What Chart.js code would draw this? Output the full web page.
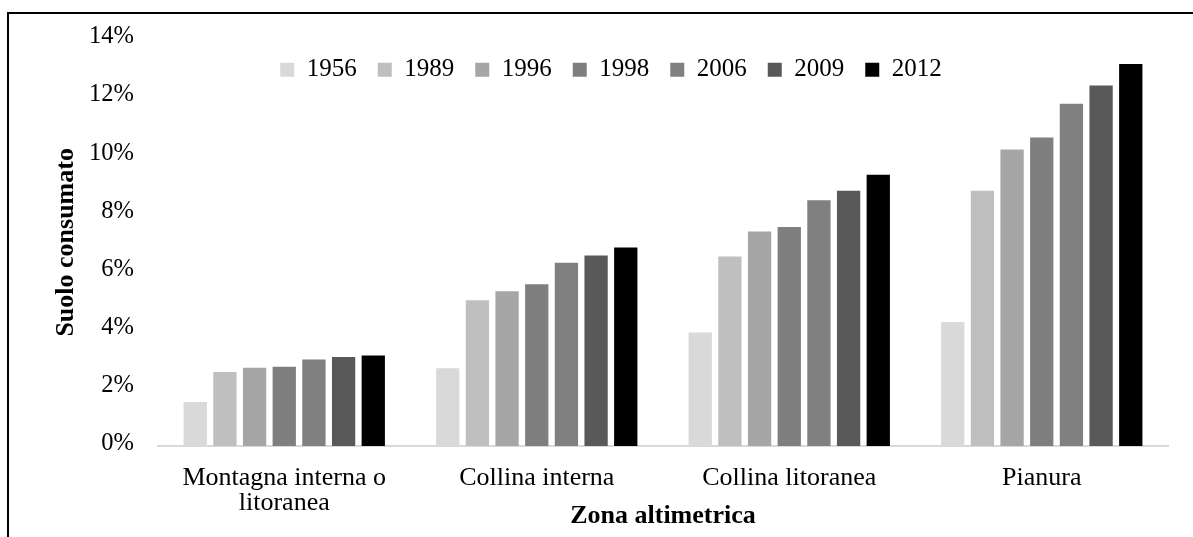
<!DOCTYPE html>
<html>
<head>
<meta charset="utf-8">
<script src="https://cdn.jsdelivr.net/npm/chart.js@4/dist/chart.umd.min.js"></script>
<style>
html,body{margin:0;padding:0;background:#fff;}
#wrap{position:relative;width:1193px;height:537px;overflow:hidden;}
#frame{position:absolute;left:7px;top:12px;right:-5px;bottom:-5px;border-top:2px solid #000;border-left:2px solid #000;pointer-events:none;}
canvas{position:absolute;left:0;top:0;}
</style>
</head>
<body>
<div id="wrap"><canvas id="c" width="1193" height="537"></canvas><div id="frame"></div></div>
<script>
// Data
const categories = [["Montagna interna o", "litoranea"], "Collina interna", "Collina litoranea", "Pianura"];
const years = ["1956", "1989", "1996", "1998", "2006", "2009", "2012"];
const v1956 = [1.51, 2.67, 3.90, 4.26];
const v1989 = [2.54, 5.01, 6.51, 8.77];
const v1996 = [2.69, 5.32, 7.37, 10.19];
const v1998 = [2.72, 5.56, 7.53, 10.60];
const v2006 = [2.97, 6.30, 8.45, 11.76];
const v2009 = [3.06, 6.55, 8.77, 12.39];
const v2012 = [3.11, 6.82, 9.32, 13.13];
const yMin = 0, yMax = 14, yStep = 2;
const xTitle = "Zona altimetrica";
const yTitle = "Suolo consumato";

// Styles
const seriesValues = [v1956, v1989, v1996, v1998, v2006, v2009, v2012];
const seriesColors = ["#d9d9d9", "#bfbfbf", "#a6a6a6", "#7f7f7f", "#808080", "#595959", "#000000"];
const FONT = "'Liberation Serif', 'Times New Roman', serif";

// Legend drawn horizontally inside the plot area, slightly left of centre
const legendInPlot = {
  id: 'legendInPlot',
  beforeLayout(chart) {
    if (chart.legend) chart.legend.isHorizontal = () => true;
  },
  afterLayout(chart) {
    const lg = chart.legend;
    if (!lg) return;
    const ca = chart.chartArea;
    lg.left = ca.left - 52;
    lg.right = ca.right - 52;
    lg.top = ca.top - 2.5;
    lg.bottom = lg.top + lg.height;
  }
};

new Chart(document.getElementById('c'), {
  type: 'bar',
  data: {
    labels: categories,
    datasets: years.map((y, i) => ({
      label: y,
      data: seriesValues[i],
      backgroundColor: seriesColors[i],
      borderWidth: 0,
      categoryPercentage: 0.8226,
      barPercentage: 0.785
    }))
  },
  options: {
    responsive: false,
    animation: false,
    devicePixelRatio: 1,
    layout: { padding: { left: 0, right: 25, top: 36, bottom: 0 } },
    plugins: {
      tooltip: { enabled: false },
      legend: {
        position: 'chartArea',
        align: 'center',
        labels: {
          boxWidth: 14,
          boxHeight: 14,
          padding: 21,
          color: '#000',
          font: { family: FONT, size: 25 }
        }
      }
    },
    scales: {
      x: {
        grid: { display: false, drawTicks: false },
        border: { display: true, color: '#d9d9d9', width: 2 },
        ticks: {
          color: '#000',
          padding: 19.5,
          maxRotation: 0,
          autoSkip: false,
          font: { family: FONT, size: 26, lineHeight: 0.96 }
        },
        title: {
          display: true,
          text: xTitle,
          color: '#000',
          font: { family: FONT, size: 26, weight: 'bold', lineHeight: 1.2 },
          padding: { top: 0, bottom: 4.7 }
        },
        afterFit(scale) { scale.height = 91; }
      },
      y: {
        min: yMin,
        max: yMax,
        grid: { display: false, drawTicks: false },
        border: { display: false },
        ticks: {
          stepSize: yStep,
          color: '#000',
          padding: 24,
          labelOffset: -2,
          font: { family: FONT, size: 24.5 },
          callback: v => v + '%'
        },
        title: {
          display: true,
          text: yTitle,
          color: '#000',
          font: { family: FONT, size: 26, weight: 'bold', lineHeight: 1.2 },
          padding: { top: 50.4, bottom: 0 }
        },
        afterFit(scale) { scale.width = 158; }
      }
    }
  },
  plugins: [legendInPlot]
});
</script>
</body>
</html>
